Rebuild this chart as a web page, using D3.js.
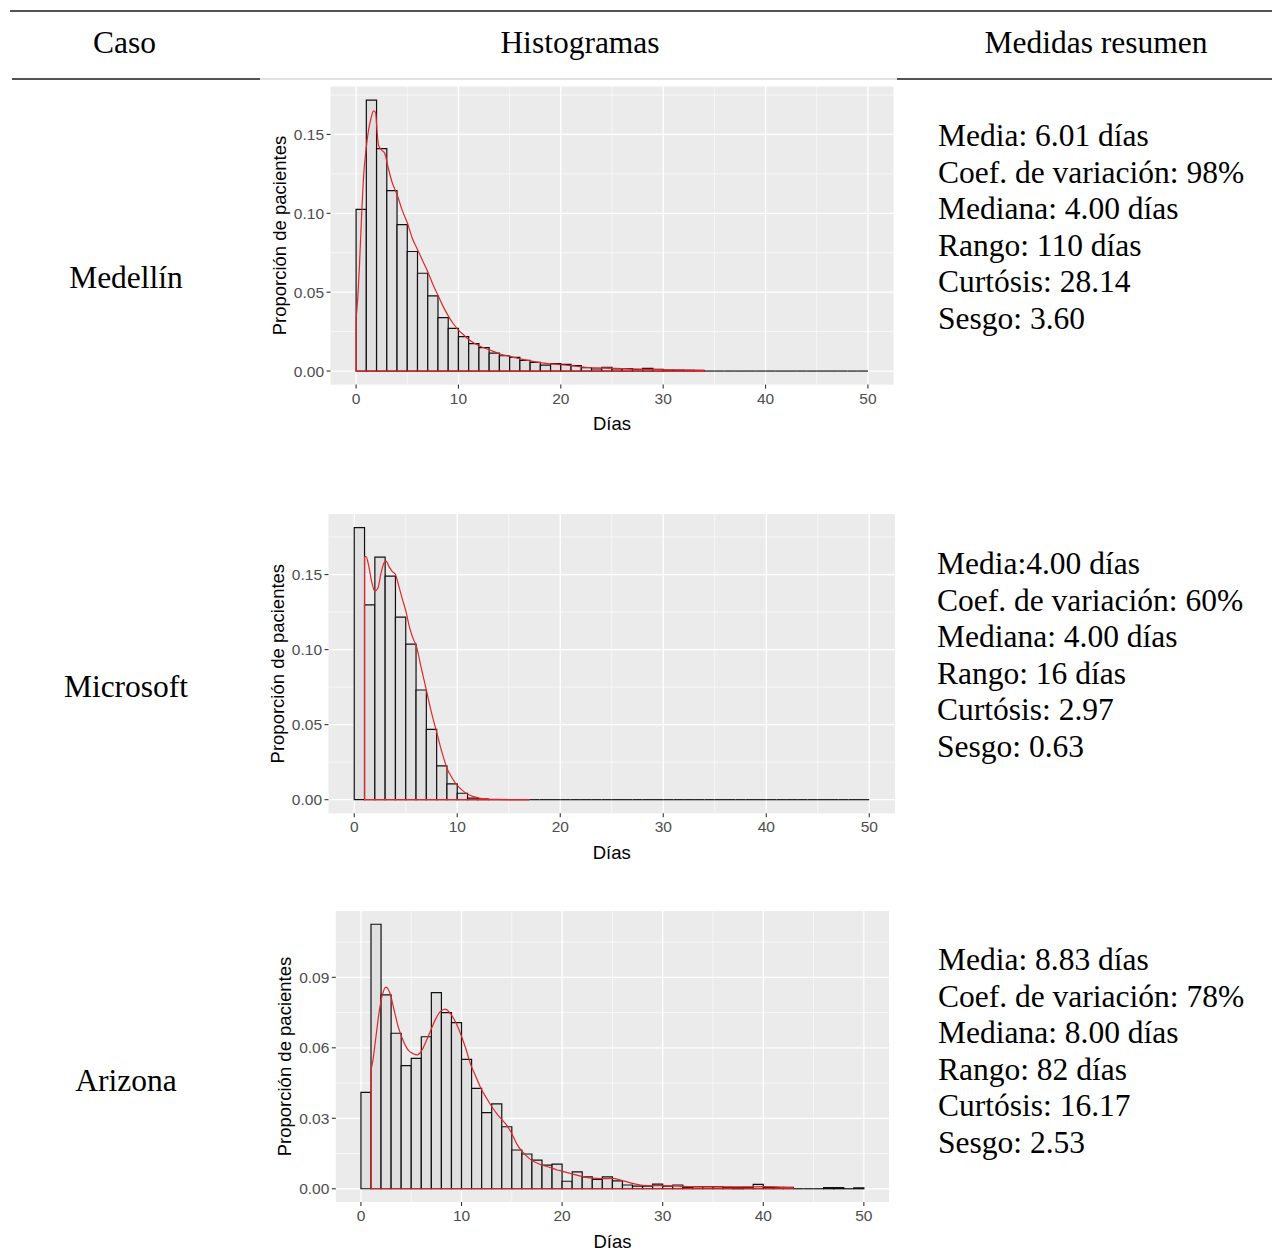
<!DOCTYPE html>
<html><head><meta charset="utf-8">
<script src="https://cdn.jsdelivr.net/npm/d3@7"></script>
<style>
html,body{margin:0;padding:0;background:#fff;}
svg{display:block;}
</style>
</head><body>
<svg id="chart" width="1275" height="1254"></svg>
<script>
// ---------------- DATA ----------------
const casos = ["Medellín", "Microsoft", "Arizona"];
const headers = ["Caso", "Histogramas", "Medidas resumen"];

// histogram bin edges start (bins of width 1 day from 0 to 50)
const binStarts = d3.range(0, 50);

const barsMedellin = [0.1025,0.1718,0.141,0.1144,0.0928,0.0758,0.062,0.0477,0.0339,0.0271,
  0.0218,0.0174,0.0148,0.0114,0.0097,0.0087,0.0068,0.0055,0.0038,0.0047,
  0.0042,0.0034,0.0021,0.0013,0.0024,0.0013,0.0015,0.0011,0.0017,0.0010,
  0.0006,0.0006,0.0005,0.0004,0,0,0,0,0,0,
  0,0,0,0,0,0,0,0,0,0];
const barsMicrosoft = [0.1813,0.1298,0.1616,0.149,0.1216,0.1036,0.0731,0.0469,0.0225,0.0105,
  0.0043,0.0011,0.0005,0,0,0,0,0,0,0,
  0,0,0,0,0,0,0,0,0,0,
  0,0,0,0,0,0,0,0,0,0,
  0,0,0,0,0,0,0,0,0,0];
const barsArizona = [0.041,0.1126,0.0825,0.0662,0.0524,0.0555,0.0647,0.0835,0.075,0.0707,
  0.0551,0.0427,0.0324,0.0361,0.0264,0.0165,0.0148,0.0122,0.0101,0.0105,
  0.0032,0.0072,0.0051,0.004,0.0051,0.0034,0.0016,0.0011,0.0011,0.002,
  0.0011,0.0016,0.0006,0.0009,0.0009,0.0009,0.0006,0.0005,0.0006,0.0019,
  0.0006,0.0006,0.0006,0,0,0,0.0005,0.0005,0,0.0004];

// density curves [día, densidad]
const densMedellin = [[0,0.033],[0.15,0.045],[0.35,0.07],[0.55,0.1],[0.75,0.125],[1.0,0.142],[1.2,0.152],[1.45,0.16],[1.7,0.165],[1.9,0.164],[2.05,0.152],[2.2,0.143],[2.5,0.14],[2.8,0.138],[3.1,0.13],[3.5,0.12],[4.0,0.112],[4.5,0.102],[5.0,0.094],[5.5,0.084],[6.0,0.077],[6.5,0.07],[7.0,0.063],[7.5,0.055],[8.0,0.048],[8.5,0.041],[9.0,0.035],[9.5,0.03],[10,0.026],[10.5,0.023],[11,0.02],[12,0.016],[13,0.0135],[14,0.011],[15,0.0093],[16,0.0078],[17,0.0064],[18,0.0053],[19,0.0046],[20,0.004],[21,0.0034],[22,0.0027],[23,0.0021],[24,0.0019],[25,0.0017],[26,0.0015],[27,0.0012],[28,0.0011],[29,0.001],[30,0.0008],[32,0.0006],[34,0.0004]];
const densMicrosoft = [[1,0.162],[1.15,0.162],[1.4,0.156],[1.7,0.145],[2.0,0.139],[2.3,0.141],[2.6,0.151],[2.9,0.158],[3.1,0.159],[3.4,0.155],[3.7,0.152],[4.0,0.15],[4.3,0.143],[4.7,0.133],[5.0,0.126],[5.4,0.114],[5.8,0.106],[6.0,0.103],[6.5,0.088],[7.0,0.073],[7.5,0.058],[8.0,0.045],[8.5,0.032],[9.0,0.021],[9.5,0.0145],[10,0.0095],[10.5,0.0062],[11,0.0038],[11.5,0.0022],[12,0.0013],[12.5,0.0007],[13,0.0004],[14,0.0002],[17,0]];
const densArizona = [[1,0.0505],[1.2,0.055],[1.5,0.065],[1.8,0.075],[2.1,0.082],[2.5,0.0858],[2.9,0.083],[3.3,0.076],[3.7,0.069],[4.2,0.063],[4.7,0.059],[5.2,0.0575],[5.6,0.057],[6.0,0.0585],[6.4,0.062],[6.9,0.067],[7.4,0.072],[7.9,0.0755],[8.4,0.0765],[8.9,0.0745],[9.4,0.071],[9.9,0.066],[10.4,0.06],[10.9,0.053],[11.4,0.048],[11.9,0.043],[12.5,0.0385],[13,0.035],[13.5,0.032],[14,0.0295],[14.5,0.027],[15,0.0235],[15.5,0.019],[16,0.016],[16.5,0.0138],[17,0.012],[17.5,0.011],[18,0.01],[18.5,0.0095],[19,0.0088],[19.5,0.008],[20,0.0075],[20.5,0.0069],[21,0.0063],[22,0.0052],[23,0.0045],[24,0.0043],[25,0.0044],[26,0.0035],[27,0.0023],[28,0.0015],[29,0.0013],[30,0.0013],[31,0.0012],[32,0.001],[34,0.0008],[36,0.0008],[38,0.0008],[40,0.0009],[42,0.0006],[43,0.0004]];

const xTicks = [0, 10, 20, 30, 40, 50];
const yTicksA = [0, 0.05, 0.10, 0.15];
const yTicksB = [0, 0.03, 0.06, 0.09];

const statsMedellin = ["Media: 6.01 días","Coef. de variación: 98%","Mediana: 4.00 días","Rango: 110 días","Curtósis: 28.14","Sesgo: 3.60"];
const statsMicrosoft = ["Media:4.00 días","Coef. de variación: 60%","Mediana: 4.00 días","Rango: 16 días","Curtósis: 2.97","Sesgo: 0.63"];
const statsArizona = ["Media: 8.83 días","Coef. de variación: 78%","Mediana: 8.00 días","Rango: 82 días","Curtósis: 16.17","Sesgo: 2.53"];

const xTitle = "Días";
const yTitle = "Proporción de pacientes";

// ---------------- LAYOUT ----------------
const rows = [
  {label: casos[0], bars: barsMedellin, dens: densMedellin, yTicks: yTicksA, stats: statsMedellin,
   panel: {l: 330.5, r: 893.5, t: 86.5, b: 384.6}, labelY: 288, statsX: 938, statsY: 146},
  {label: casos[1], bars: barsMicrosoft, dens: densMicrosoft, yTicks: yTicksA, stats: statsMicrosoft,
   panel: {l: 328.5, r: 895, t: 514, b: 813.3}, labelY: 697, statsX: 937, statsY: 574},
  {label: casos[2], bars: barsArizona, dens: densArizona, yTicks: yTicksB, stats: statsArizona,
   panel: {l: 335.8, r: 889, t: 911, b: 1202}, labelY: 1091, statsX: 938, statsY: 970}
];

const svg = d3.select("#chart");
const serif = "'Liberation Serif','Times New Roman',serif";
const sans = "'Liberation Sans',Arial,sans-serif";
const SERIF_SIZE = 31.5, LINE_H = 36.6;

// table rules
svg.append("line").attr("x1",10).attr("x2",1272).attr("y1",11).attr("y2",11)
  .attr("stroke","#1a1a1a").attr("stroke-width",1.4);
svg.append("line").attr("x1",260).attr("x2",897).attr("y1",79).attr("y2",79)
  .attr("stroke","#c4c4c4").attr("stroke-width",1);
svg.append("line").attr("x1",12).attr("x2",260).attr("y1",79).attr("y2",79)
  .attr("stroke","#1a1a1a").attr("stroke-width",1.4);
svg.append("line").attr("x1",897).attr("x2",1272).attr("y1",79).attr("y2",79)
  .attr("stroke","#1a1a1a").attr("stroke-width",1.4);

// headers
const headerX = [124.5, 580, 1096];
headers.forEach((h,i)=>{
  svg.append("text").attr("x",headerX[i]).attr("y",53).attr("text-anchor","middle")
    .attr("font-family",serif).attr("font-size",SERIF_SIZE).attr("fill","#000").text(h);
});

rows.forEach(row=>{
  const p = row.panel;
  const ymax = d3.max(row.bars);
  const x = d3.scaleLinear().domain([-2.5, 52.5]).range([p.l, p.r]);
  const y = d3.scaleLinear().domain([-0.05*ymax, 1.05*ymax]).range([p.b, p.t]);
  const g = svg.append("g");

  // panel background
  g.append("rect").attr("x",p.l).attr("y",p.t).attr("width",p.r-p.l).attr("height",p.b-p.t).attr("fill","#EBEBEB");

  // minor grid
  const xMinor = xTicks.slice(0,-1).map(v=>v+5);
  const step = row.yTicks[1]-row.yTicks[0];
  const yMinor = row.yTicks.map(v=>v+step/2).filter(v=>v<y.domain()[1]);
  g.selectAll(".xminor").data(xMinor).enter().append("line")
    .attr("x1",d=>x(d)).attr("x2",d=>x(d)).attr("y1",p.t).attr("y2",p.b)
    .attr("stroke","#fff").attr("stroke-width",0.6);
  g.selectAll(".yminor").data(yMinor).enter().append("line")
    .attr("x1",p.l).attr("x2",p.r).attr("y1",d=>y(d)).attr("y2",d=>y(d))
    .attr("stroke","#fff").attr("stroke-width",0.6);
  // major grid
  g.selectAll(".xmajor").data(xTicks).enter().append("line")
    .attr("x1",d=>x(d)).attr("x2",d=>x(d)).attr("y1",p.t).attr("y2",p.b)
    .attr("stroke","#fff").attr("stroke-width",1.3);
  g.selectAll(".ymajor").data(row.yTicks).enter().append("line")
    .attr("x1",p.l).attr("x2",p.r).attr("y1",d=>y(d)).attr("y2",d=>y(d))
    .attr("stroke","#fff").attr("stroke-width",1.3);

  // bars
  g.selectAll(".bar").data(row.bars.map((v,i)=>({x0:binStarts[i], v}))).enter().append("path")
    .attr("d",d=>{
      const x0=x(d.x0), x1=x(d.x0+1), y0=y(0), y1=y(d.v);
      return d.v>0 ? `M${x0},${y0}V${y1}H${x1}V${y0}Z` : `M${x0},${y0}H${x1}`;
    })
    .attr("fill","#E0E0E0").attr("stroke","#111").attr("stroke-width",1.2);

  // density outline (closed polygon like ggplot's geom_density)
  const d0 = row.dens[0][0], d1 = row.dens[row.dens.length-1][0];
  const line = d3.line().x(d=>x(d[0])).y(d=>y(d[1])).curve(d3.curveMonotoneX);
  g.append("path").attr("d", line(row.dens))
    .attr("fill","none").attr("stroke","#E3262B").attr("stroke-width",1.2);
  g.append("path").attr("d", `M${x(d0)},${y(row.dens[0][1])}V${y(0)}H${x(d1)}V${y(row.dens[row.dens.length-1][1])}`)
    .attr("fill","none").attr("stroke","#E3262B").attr("stroke-width",1.2);

  // y axis ticks and labels
  row.yTicks.forEach(t=>{
    g.append("line").attr("x1",p.l-4).attr("x2",p.l).attr("y1",y(t)).attr("y2",y(t))
      .attr("stroke","#333").attr("stroke-width",1.1);
    g.append("text").attr("x",p.l-6.5).attr("y",y(t)).attr("dy","0.36em").attr("text-anchor","end")
      .attr("font-family",sans).attr("font-size",15.5).attr("fill","#4D4D4D").text(d3.format(".2f")(t));
  });
  // x axis ticks and labels
  xTicks.forEach(t=>{
    g.append("line").attr("x1",x(t)).attr("x2",x(t)).attr("y1",p.b).attr("y2",p.b+4)
      .attr("stroke","#333").attr("stroke-width",1.1);
    g.append("text").attr("x",x(t)).attr("y",p.b+19).attr("text-anchor","middle")
      .attr("font-family",sans).attr("font-size",15.5).attr("fill","#4D4D4D").text(t);
  });
  // axis titles
  g.append("text").attr("x",(p.l+p.r)/2).attr("y",p.b+45.5).attr("text-anchor","middle")
    .attr("font-family",sans).attr("font-size",18.5).attr("fill","#000").text(xTitle);
  const cy = (p.t+p.b)/2, cx = p.l-51;
  g.append("text").attr("transform",`translate(${cx},${cy}) rotate(-90)`).attr("dy","0.35em")
    .attr("text-anchor","middle").attr("font-family",sans).attr("font-size",18.5).attr("fill","#000").text(yTitle);

  // row label
  svg.append("text").attr("x",126).attr("y",row.labelY).attr("text-anchor","middle")
    .attr("font-family",serif).attr("font-size",SERIF_SIZE).attr("fill","#000").text(row.label);

  // stats
  row.stats.forEach((s,i)=>{
    svg.append("text").attr("x",row.statsX).attr("y",row.statsY+i*LINE_H)
      .attr("font-family",serif).attr("font-size",SERIF_SIZE).attr("fill","#000").text(s);
  });
});
</script>
</body></html>
